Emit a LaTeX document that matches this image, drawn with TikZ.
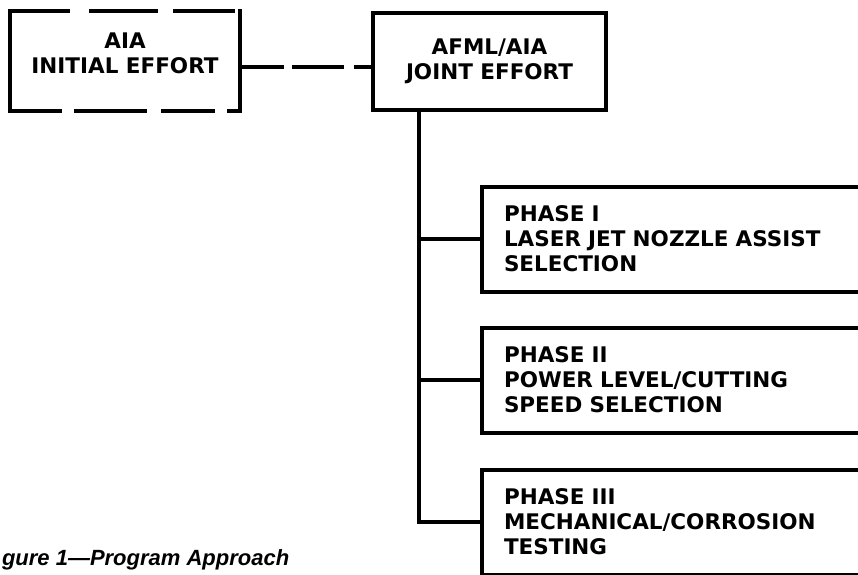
\documentclass[tikz,border=0pt]{standalone}
\usepackage{fontspec}
\setmainfont{DejaVu Sans}
\newfontfamily\capfont{Liberation Sans}
\begin{document}
\begin{tikzpicture}[x=1pt,y=1pt,
  line width=4pt,
  boxfont/.style={font=\bfseries\fontsize{21.5}{25}\selectfont},
  topbox/.style={boxfont, inner sep=0pt, align=center},
  phasebox/.style={boxfont, draw, inner xsep=22pt, inner ysep=0pt, text width=344pt, align=left, minimum height=105pt},
  link/.style={line width=4pt},
  dashlink/.style={line width=4pt, dash pattern=on 44pt off 8pt on 52pt off 10pt}
]
\useasboundingbox (0,0) rectangle (858,574);
\clip (0,0) rectangle (858,574);

% top boxes
\node[topbox, minimum width=226pt, minimum height=96pt, text depth=16pt] (aia) at (125,513) {AIA\\INITIAL EFFORT};
\node[topbox, draw, minimum width=233pt, minimum height=97pt] (joint) at (489.5,512.5) {AFML/AIA\\JOINT EFFORT};

% dashed frame of AIA box
\draw[line cap=rect, dash pattern=on 58pt off 23pt on 65pt off 19pt] (aia.north west) -- (aia.north east);
\draw[line cap=rect, dash pattern=on 50pt off 16pt on 69pt off 18pt] (aia.south west) -- (aia.south east);
\draw[line cap=rect] (aia.north west) -- (aia.south west);
\draw[line cap=rect] (aia.north east) -- (aia.south east);

% phase boxes
\node[phasebox] (p1) at (676,335) {PHASE I\\LASER JET NOZZLE ASSIST\\SELECTION};
\node[phasebox] (p2) at (676,194) {PHASE II\\POWER LEVEL/CUTTING\\SPEED SELECTION};
\node[phasebox] (p3) at (676,52) {PHASE III\\MECHANICAL/CORROSION\\TESTING};

% connectors
\coordinate (trunk) at (419,52);
\draw[dashlink] ([yshift=-6pt]aia.east) -- ([yshift=-6pt]aia.east -| joint.west);
\draw[link] (joint.south -| trunk) |- (p3.west);
\draw[link] (trunk |- p1.west) -- (p1.west);
\draw[link] (trunk |- p2.west) -- (p2.west);

% caption
\node[anchor=base west, inner sep=0pt, font=\capfont\bfseries\itshape\fontsize{22}{26}\selectfont] (cap) at (0,9) {gure 1—Program Approach};
\end{tikzpicture}
\end{document}
